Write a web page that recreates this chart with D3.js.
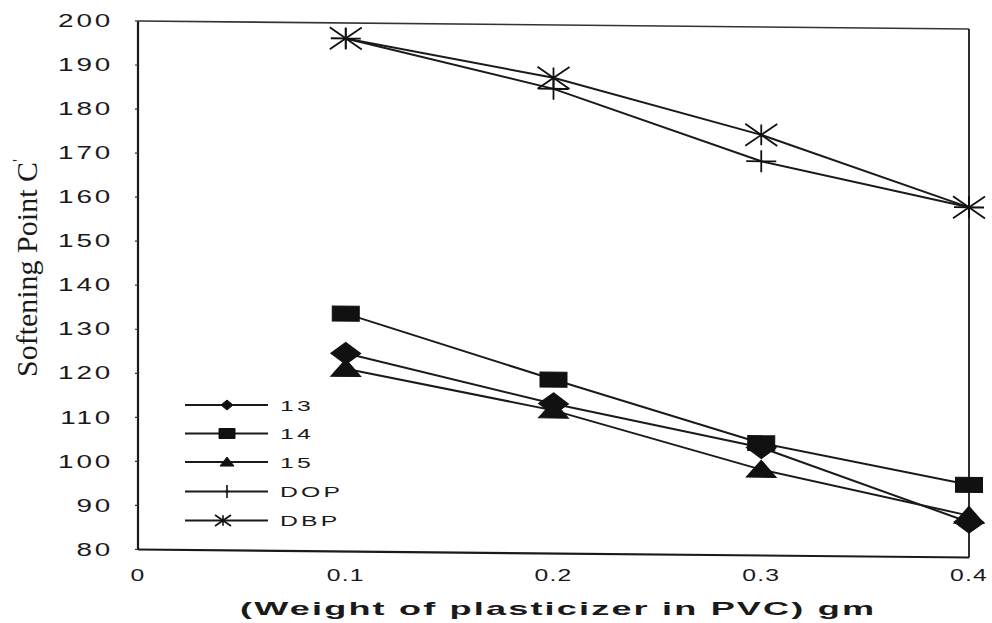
<!DOCTYPE html>
<html>
<head>
<meta charset="utf-8">
<script src="https://cdn.jsdelivr.net/npm/d3@7"></script>
<style>
  html, body { margin: 0; padding: 0; background: #fff; }
  svg { display: block; }
  text { font-family: "Liberation Sans", Arial, sans-serif; fill: #1a1a1a; }
</style>
</head>
<body>
<svg id="chart" width="992" height="623"></svg>
<script>
// Weight of plasticizer (gm) at which softening point was measured
const loadings = [0.1, 0.2, 0.3, 0.4];

// Softening point (°C) for each plasticizer
const s13  = [125, 114, 104.5, 88];
const s14  = [134, 119.5, 105.5, 96.5];
const s15  = [121.5, 112.5, 99.5, 89.5];
const sDOP = [196.5, 185.5, 169.5, 159.5];
const sDBP = [196.5, 188, 175.5, 159.5];

const seriesNames = ["13", "14", "15", "DOP", "DBP"];
const seriesValues = [s13, s14, s15, sDOP, sDBP];
const markerKinds = ["diamond", "square", "triangle", "plus", "asterisk"];

const xTicks = [0, 0.1, 0.2, 0.3, 0.4];
const xTickLabels = ["0", "0.1", "0.2", "0.3", "0.4"];
const yTicks = [80, 90, 100, 110, 120, 130, 140, 150, 160, 170, 180, 190, 200];

const xTitle = "(Weight of plasticizer in PVC) gm";
const yTitle = "Softening Point C";

const svg = d3.select("#chart");
const plotLeft = 138, plotRight = 969, plotTop = 21, plotBottom = 549.5;

const x = d3.scaleLinear().domain([0, 0.4]).range([plotLeft, plotRight]);
const y = d3.scaleLinear().domain([80, 200]).range([plotBottom, plotTop]);

// plot body is drawn with a slight downward lean to the right
const lean = 0.55;
const plot = svg.append("g")
  .attr("transform", `translate(${plotLeft},0) skewY(${lean}) translate(${-plotLeft},0)`);

// frame
const frame = plot.append("g").attr("fill", "none").attr("stroke", "#1a1a1a");
frame.append("line").attr("x1", plotLeft).attr("x2", plotLeft).attr("y1", plotTop).attr("y2", plotBottom).attr("stroke-width", 2.2);
frame.append("line").attr("x1", plotLeft).attr("x2", plotRight).attr("y1", plotBottom).attr("y2", plotBottom).attr("stroke-width", 2.2);
frame.append("line").attr("x1", plotLeft).attr("x2", plotRight).attr("y1", plotTop).attr("y2", plotTop).attr("stroke-width", 1.6).attr("stroke", "#333");
frame.append("line").attr("x1", plotRight).attr("x2", plotRight).attr("y1", plotTop).attr("y2", plotBottom).attr("stroke-width", 1.8);

// small ticks on the value axis
plot.append("g").selectAll("line").data(yTicks).join("line")
  .attr("x1", plotLeft - 3).attr("x2", plotLeft)
  .attr("y1", d => y(d)).attr("y2", d => y(d))
  .attr("stroke", "#333").attr("stroke-width", 1.2);

function markerPath(kind, w, h) {
  const a = w / 2, b = h / 2;
  switch (kind) {
    case "diamond": return `M0,${-b}L${a},0L0,${b}L${-a},0Z`;
    case "square": return `M${-a},${-b}H${a}V${b}H${-a}Z`;
    case "triangle": return `M0,${-b * 1.1}L${a},${b * 0.9}H${-a}Z`;
    case "plus": return `M${-a},0H${a}M0,${-b}V${b}`;
    case "asterisk": return `M${-a},${-b}L${a},${b}M${-a},${b}L${a},${-b}M0,${-b * 0.95}V${b * 0.95}`;
  }
}
const plotSize = {
  diamond: [30, 22], square: [27, 15], triangle: [30, 17], plus: [30, 22], asterisk: [32, 22]
};
const legendSize = {
  diamond: [12, 10], square: [16, 10], triangle: [14, 9], plus: [4, 13], asterisk: [16, 11]
};
const isStroked = k => k === "plus" || k === "asterisk";

const line = d3.line().x((d, i) => x(loadings[i])).y(d => y(d));

// series lines
const drawOrder = [4, 3, 1, 0, 2];
plot.append("g").selectAll("path").data(drawOrder).join("path")
  .attr("d", i => line(seriesValues[i]))
  .attr("fill", "none").attr("stroke", "#1a1a1a").attr("stroke-width", 2);

// series markers
drawOrder.forEach(i => {
  const kind = markerKinds[i];
  const [w, h] = plotSize[kind];
  plot.append("g").selectAll("path").data(seriesValues[i]).join("path")
    .attr("transform", (d, j) => `translate(${x(loadings[j])},${y(d)})`)
    .attr("d", markerPath(kind, w, h))
    .attr("fill", isStroked(kind) ? "none" : "#111")
    .attr("stroke", "#111")
    .attr("stroke-width", isStroked(kind) ? 1.8 : 1);
});

// wide lettering used for axis numbers and legend
function wideText(g, px, py, str, opts) {
  const t = g.append("text")
    .attr("transform", `translate(${px},${py}) scale(${opts.sx},1)`)
    .attr("text-anchor", opts.anchor || "middle")
    .attr("dominant-baseline", "central")
    .style("font-size", opts.size + "px")
    .style("letter-spacing", (opts.ls || 0) + "px")
    .text(str);
  if (opts.bold) t.style("font-weight", "bold");
  return t;
}

// value-axis labels
const yLab = svg.append("g");
yTicks.forEach(v => wideText(yLab, 113, y(v), String(v), { sx: 1.55, size: 18, ls: 1.8, anchor: "end" }));

// weight-axis labels
const xLab = svg.append("g");
xTicks.forEach((v, i) => wideText(xLab, x(v), 575, xTickLabels[i], { sx: 1.5, size: 16.5, ls: 0.8 }));

// weight-axis title
svg.append("text")
  .attr("transform", `translate(557,615) scale(1.95,1)`)
  .attr("text-anchor", "middle")
  .attr("textLength", 634 / 1.95)
  .attr("lengthAdjust", "spacing")
  .style("font-size", "18.5px").style("font-weight", "bold")
  .text(xTitle);

// value-axis title
const yt = svg.append("text")
  .attr("transform", "translate(37,268) rotate(-90)")
  .attr("text-anchor", "middle")
  .style("font-family", "'Liberation Serif', 'Times New Roman', serif")
  .style("font-size", "30px")
  .text(yTitle);
yt.append("tspan").attr("dy", -13).style("font-size", "17px").text("'");

// legend
const legend = svg.append("g");
const legendY = [405, 433.5, 462, 491.5, 520.5];
seriesNames.forEach((name, i) => {
  const ly = legendY[i];
  const kind = markerKinds[i];
  legend.append("line").attr("x1", 185).attr("x2", 268).attr("y1", ly).attr("y2", ly)
    .attr("stroke", "#1a1a1a").attr("stroke-width", 2);
  const [w, h] = legendSize[kind];
  legend.append("path")
    .attr("transform", `translate(${kind === "asterisk" ? 223 : 227},${ly})`)
    .attr("d", markerPath(kind, w, h))
    .attr("fill", isStroked(kind) ? "none" : "#111")
    .attr("stroke", "#111").attr("stroke-width", isStroked(kind) ? 1.6 : 1);
  wideText(legend, 280, ly, name, { sx: 1.6, size: 15.5, ls: 2, anchor: "start" });
});
</script>
</body>
</html>
